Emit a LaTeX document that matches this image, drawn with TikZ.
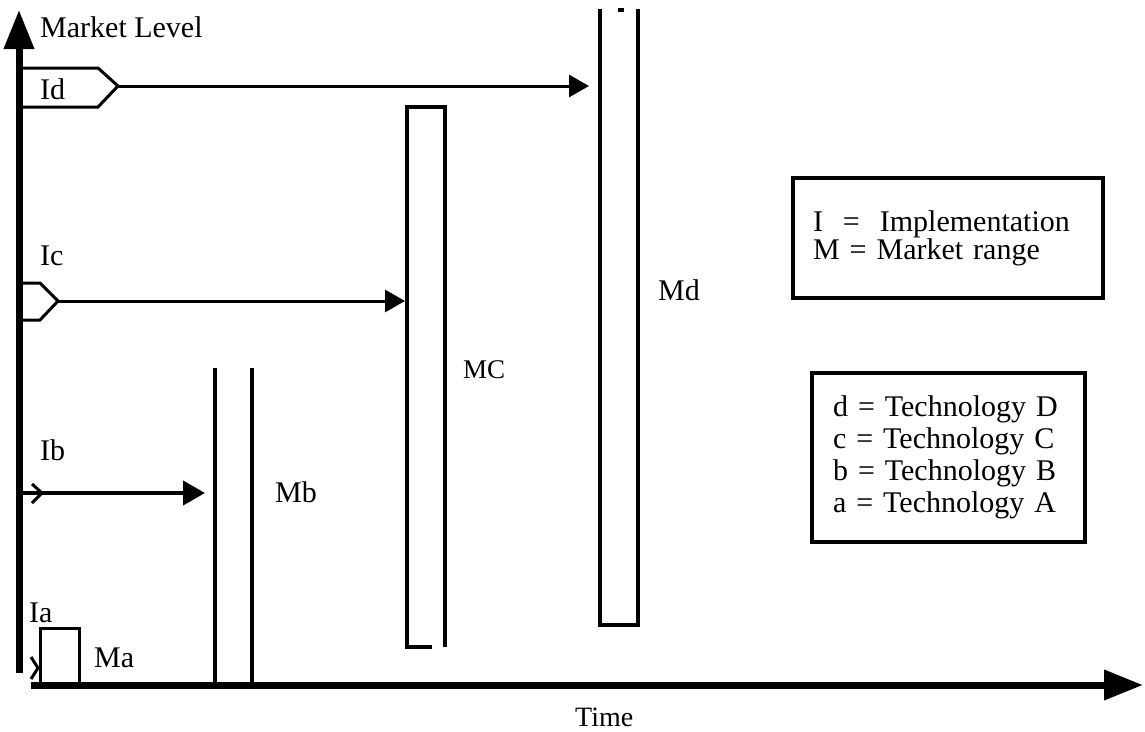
\documentclass[tikz,border=0pt]{standalone}
\usepackage{fontspec}
\setmainfont{Liberation Serif}
\usetikzlibrary{arrows.meta}
\begin{document}
\begin{tikzpicture}
  [x=1pt,y=-1pt,every node/.style={inner sep=0pt,anchor=base west,font=\fontsize{30}{32}\selectfont},
   axis/.style={line width=7pt,-{Triangle[length=39pt,width=29pt]}},
   flow/.style={line width=3pt,-{Triangle[length=20pt,width=22pt]}},
   bar/.style={line width=4pt},
   tag/.style={line width=3pt,line join=miter},
   key/.style={draw,line width=4pt,anchor=center,align=left}]
  \useasboundingbox (0,0) rectangle (1145,731);

  % axes
  \coordinate (yfoot) at (19,673);
  \coordinate (ytop)  at (19,10);
  \coordinate (xfoot) at (31,685);
  \coordinate (xtip)  at (1143,685);
  \draw[axis] (yfoot) -- (ytop);
  \draw[axis] (xfoot) -- (xtip);
  \node (lvl)  at (40,37)   {Market Level};
  \node (time) at (575,726) {\fontsize{28}{30}\selectfont Time};

  % market ranges
  \draw[tag] (40,685) -- (40,628) -- (79,628) -- (79,685);
  \draw[bar] (215,368) -- (215,685);
  \draw[bar] (252,368) -- (252,685);
  \draw[bar] (432,647) -- (407,647) -- (407,107) -- (445,107) -- (445,647);
  \draw[bar] (600,9) -- (600,625) -- (638,625) -- (638,9);
  \draw[bar] (618,10) -- (624,10);
  \node (ma) at (94,667)  {Ma};
  \node (mb) at (275,502) {Mb};
  \node (mc) at (463,378) {\fontsize{27}{30}\selectfont MC};
  \node (md) at (658,300) {Md};

  % implementations
  \draw[tag] (22,68) -- (98,68) -- (118,86) -- (98,107) -- (22,107);
  \draw[tag] (22,283) -- (40,283) -- (58,301) -- (40,320) -- (22,320);
  \draw[tag] (32,484) -- (42,493) -- (32,503);
  \draw[tag] (31,657) -- (38,668) -- (31,679);
  \coordinate (id0) at (118,86);
  \coordinate (id1) at (589,86);
  \coordinate (ic0) at (58,301);
  \coordinate (ic1) at (405,301);
  \coordinate (ib0) at (22,493);
  \coordinate (ib1) at (205,493);
  \draw[flow] (id0) -- (id1);
  \draw[flow] (ic0) -- (ic1);
  \draw[flow,line width=4pt,-{Triangle[length=22pt,width=24pt]}] (ib0) -- (ib1);
  \node (id) at (40,99)  {Id};
  \node (ic) at (40,265) {Ic};
  \node (ib) at (40,460) {Ib};
  \node (ia) at (29,622) {Ia};

  % legends
  \node[key,minimum width=310pt,minimum height=120pt,text width=270pt,
        font=\fontsize{30}{27}\selectfont] (imp) at (948,238)
    {I\ \ =\ \ Implementation\\M = Market range};
  \node[key,minimum width=273pt,minimum height=169pt,text width=231pt] (tech) at (948.5,457.5)
    {d = Technology D\\c = Technology C\\b = Technology B\\a = Technology A};
\end{tikzpicture}
\end{document}
